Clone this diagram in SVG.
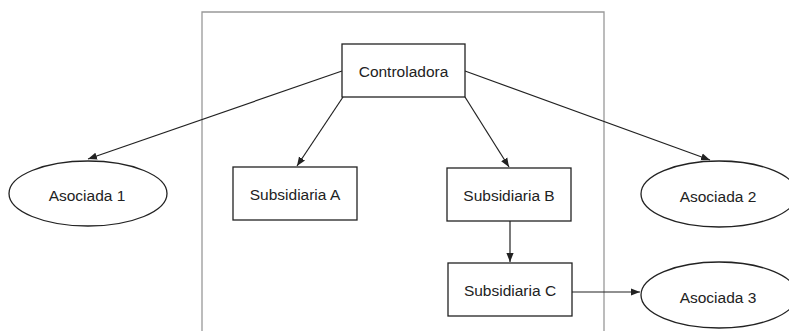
<svg xmlns="http://www.w3.org/2000/svg" width="789" height="331" viewBox="0 0 789 331">
<defs>
<marker id="ah" viewBox="0 0 10 10" refX="10" refY="5" markerWidth="9" markerHeight="9" markerUnits="userSpaceOnUse" orient="auto">
<path d="M0,1 L10,5 L0,9 z" fill="#222"/>
</marker>
<style>
.box{fill:#fff;stroke:#222;stroke-width:1.3}
.lbl{font-family:"Liberation Sans",Arial,sans-serif;font-size:15.5px;fill:#222;text-anchor:middle;dominant-baseline:central}
.edge{stroke:#222;stroke-width:1.2;fill:none;marker-end:url(#ah)}
</style>
</defs>
<rect width="789" height="331" fill="#fff"/>
<path d="M202,340 L202,12 L604,12 L604,340" fill="none" stroke="#999" stroke-width="1.3"/>
<g id="connectors">
<line class="edge" x1="342" y1="71" x2="88" y2="159"/>
<line class="edge" x1="343" y1="97" x2="297" y2="166"/>
<line class="edge" x1="465" y1="97" x2="509" y2="167"/>
<line class="edge" x1="465" y1="71" x2="710" y2="160"/>
<line class="edge" x1="510" y1="221" x2="510" y2="262"/>
<line class="edge" x1="572" y1="292" x2="640" y2="292"/>
</g>
<g id="controladora">
<rect class="box" x="342" y="44" width="123" height="53"/>
<text class="lbl" x="403.5" y="71">Controladora</text>
</g>
<g id="asociada1">
<ellipse class="box" cx="88" cy="193.5" rx="79" ry="32.5"/>
<text class="lbl" x="87" y="195">Asociada 1</text>
</g>
<g id="subA">
<rect class="box" x="233" y="167" width="124" height="53"/>
<text class="lbl" x="295" y="194">Subsidiaria A</text>
</g>
<g id="subB">
<rect class="box" x="447" y="168" width="124" height="53"/>
<text class="lbl" x="509" y="195">Subsidiaria B</text>
</g>
<g id="asociada2">
<ellipse class="box" cx="719" cy="194" rx="78" ry="33"/>
<text class="lbl" x="718" y="196">Asociada 2</text>
</g>
<g id="subC">
<rect class="box" x="448" y="263" width="124" height="53"/>
<text class="lbl" x="510" y="290">Subsidiaria C</text>
</g>
<g id="asociada3">
<ellipse class="box" cx="719" cy="295" rx="78" ry="33"/>
<text class="lbl" x="718" y="297">Asociada 3</text>
</g>
</svg>
